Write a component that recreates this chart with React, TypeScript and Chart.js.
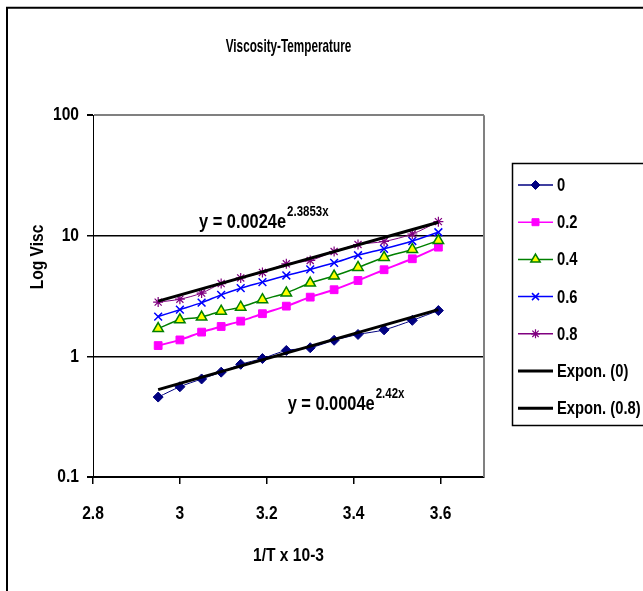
import React, { useEffect, useRef } from "react";
import { Chart, registerables } from "chart.js";
import { drawPoint } from "chart.js/helpers";

Chart.register(...registerables);

const FONT = '"Liberation Sans", Arial, sans-serif';
const NARROW = 0.82;
const TITLE_SIZE = 18;
const TITLE_NARROW = 0.635;

const chartTitle = "Viscosity-Temperature";
const xAxisTitle = "1/T x 10-3";
const yAxisTitle = "Log Visc";

const xTickValues = [2.8, 3.0, 3.2, 3.4, 3.6];
const yTickValues = [0.1, 1, 10, 100];

const invT = [2.95, 3.0, 3.05, 3.095, 3.14, 3.19, 3.245, 3.3, 3.355, 3.41, 3.47, 3.535, 3.595];
const visc0 = [0.46, 0.56, 0.65, 0.74, 0.86, 0.96, 1.12, 1.18, 1.36, 1.52, 1.66, 1.99, 2.4];
const visc02 = [1.23, 1.37, 1.59, 1.77, 1.96, 2.26, 2.61, 3.1, 3.57, 4.26, 5.23, 6.45, 8.05];
const visc04 = [1.7, 2.01, 2.12, 2.37, 2.56, 2.95, 3.36, 4.06, 4.64, 5.46, 6.61, 7.7, 9.14];
const visc06 = [2.14, 2.44, 2.79, 3.24, 3.68, 4.13, 4.69, 5.26, 5.97, 6.9, 7.8, 9.06, 10.7];
const visc08 = [2.82, 2.98, 3.35, 4.02, 4.47, 4.97, 5.86, 6.24, 7.41, 8.47, 8.97, 10.35, 13.1];

const trendX = [2.95, 3.595];
const expon0 = [0.53, 2.44];
const expon08 = [2.87, 12.96];

const seriesLabels = ["0", "0.2", "0.4", "0.6", "0.8", "Expon. (0)", "Expon. (0.8)"];

const eqMain = ["y = 0.0024e", "y = 0.0004e"];
const eqSup = ["2.3853x", "2.42x"];
const eqAnchorX = [3.044, 3.248];
const eqAnchorY = [11.7, 0.357];

const pts = (xs: number[], ys: number[]) => xs.map((x, i) => ({ x, y: ys[i] }));

const framePlugin = {
  id: "frame",
  beforeDraw(chart: any) {
    const { ctx } = chart;
    ctx.save();
    ctx.strokeStyle = "#000";
    ctx.lineWidth = 2;
    ctx.beginPath();
    ctx.moveTo(7, 600);
    ctx.lineTo(7, 7.7);
    ctx.lineTo(660, 7.7);
    ctx.stroke();
    ctx.restore();
  },
  beforeDatasetsDraw(chart: any) {
    const { ctx, chartArea } = chart;
    ctx.save();
    ctx.strokeStyle = "#808080";
    ctx.lineWidth = 2;
    ctx.beginPath();
    ctx.moveTo(chartArea.right, chartArea.top);
    ctx.lineTo(chartArea.right, chartArea.bottom);
    ctx.stroke();
    ctx.restore();
  },
};

const textPlugin = {
  id: "texts",
  afterDatasetsDraw(chart: any) {
    const { ctx, scales } = chart;
    ctx.save();
    ctx.fillStyle = "#000";
    ctx.save();
    ctx.translate(38, 257);
    ctx.rotate(-Math.PI / 2);
    ctx.font = `bold 19px ${FONT}`;
    ctx.textAlign = "center";
    ctx.textBaseline = "middle";
    ctx.fillText(yAxisTitle, 0, 0);
    ctx.restore();
    eqMain.forEach((t, i) => {
      const x = scales.x.getPixelForValue(eqAnchorX[i]);
      const y = scales.y.getPixelForValue(eqAnchorY[i]);
      ctx.font = `bold 20px ${FONT}`;
      ctx.textAlign = "left";
      ctx.textBaseline = "alphabetic";
      ctx.fillText(t, x, y);
      const w = ctx.measureText(t).width * NARROW;
      ctx.font = `bold 14px ${FONT}`;
      ctx.fillText(eqSup[i], x + w + 1, y - 12);
    });
    ctx.restore();
  },
  afterDraw(chart: any) {
    const { ctx } = chart;
    ctx.save();
    ctx.strokeStyle = "#000";
    ctx.lineWidth = 1.5;
    ctx.strokeRect(512.5, 163.5, 150, 262);
    chart.data.datasets.forEach((ds: any, i: number) => {
      const y = 185 + i * 37.2;
      ctx.strokeStyle = ds.borderColor;
      ctx.lineWidth = ds.pointRadius > 0 ? 1.5 : 3;
      ctx.beginPath();
      ctx.moveTo(518, y);
      ctx.lineTo(553, y);
      ctx.stroke();
      if (ds.pointRadius > 0) {
        ctx.fillStyle = ds.pointBackgroundColor;
        ctx.strokeStyle = ds.pointBorderColor;
        ctx.lineWidth = ds.pointBorderWidth;
        drawPoint(ctx, { pointStyle: ds.pointStyle, radius: ds.pointRadius * 0.9, borderWidth: ds.pointBorderWidth, rotation: 0 }, 535.5, y);
      }
      ctx.fillStyle = "#000";
      ctx.font = `bold 18px ${FONT}`;
      ctx.textAlign = "left";
      ctx.textBaseline = "middle";
      ctx.fillText(ds.label, 557, y + 1);
    });
    ctx.restore();
  },
};

export default function App() {
  const ref = useRef<HTMLCanvasElement>(null);
  useEffect(() => {
    document.body.style.margin = "0";
    document.body.style.overflow = "hidden";
    const canvas = ref.current;
    if (!canvas) return;
    const c2d: any = canvas.getContext("2d");
    const origFill = c2d.fillText;
    // condensed (narrow) text rendering, scaled about the anchor point
    c2d.fillText = function (text: string, x: number, y: number, maxWidth?: number) {
      const k = String(this.font).includes(`${TITLE_SIZE}.5px`) ? TITLE_NARROW : NARROW;
      this.save();
      this.translate(x, y);
      this.scale(k, 1);
      if (maxWidth !== undefined) origFill.call(this, text, 0, 0, maxWidth / k);
      else origFill.call(this, text, 0, 0);
      this.restore();
    };
    const chart = new Chart(canvas, {
      type: "line",
      data: {
        datasets: [
          {
            label: seriesLabels[0], data: pts(invT, visc0), borderColor: "#000080", borderWidth: 1,
            pointStyle: "rectRot", pointRadius: 5, pointBackgroundColor: "#000080", pointBorderColor: "#000080",
            pointBorderWidth: 1, tension: 0.3, order: 10,
          },
          {
            label: seriesLabels[1], data: pts(invT, visc02), borderColor: "#FF00FF", borderWidth: 2,
            pointStyle: "rect", pointRadius: 5.5, pointBackgroundColor: "#FF00FF", pointBorderColor: "#FF00FF",
            pointBorderWidth: 1, tension: 0.3, order: 9,
          },
          {
            label: seriesLabels[2], data: pts(invT, visc04), borderColor: "#008000", borderWidth: 1.5,
            pointStyle: "triangle", pointRadius: 6, pointBackgroundColor: "#FFFF00", pointBorderColor: "#008000",
            pointBorderWidth: 1.5, tension: 0.3, order: 8,
          },
          {
            label: seriesLabels[3], data: pts(invT, visc06), borderColor: "#0000FF", borderWidth: 1.5,
            pointStyle: "crossRot", pointRadius: 5.5, pointBackgroundColor: "#0000FF", pointBorderColor: "#0000FF",
            pointBorderWidth: 1.5, tension: 0.3, order: 7,
          },
          {
            label: seriesLabels[4], data: pts(invT, visc08), borderColor: "#800080", borderWidth: 1,
            pointStyle: "star", pointRadius: 5, pointBackgroundColor: "#800080", pointBorderColor: "#800080",
            pointBorderWidth: 1.2, tension: 0.3, order: 6,
          },
          {
            label: seriesLabels[5], data: pts(trendX, expon0), borderColor: "#000", borderWidth: 3,
            pointRadius: 0, tension: 0, order: 1,
          },
          {
            label: seriesLabels[6], data: pts(trendX, expon08), borderColor: "#000", borderWidth: 3,
            pointRadius: 0, tension: 0, order: 0,
          },
        ],
      },
      options: {
        responsive: false,
        animation: false,
        events: [],
        layout: { padding: { top: 0, left: 0, right: 159, bottom: 0 } },
        plugins: {
          legend: { display: false },
          tooltip: { enabled: false },
          title: {
            display: true,
            text: chartTitle,
            fullSize: false,
            color: "#000",
            font: { family: FONT, size: TITLE_SIZE + 0.5, weight: "bold", lineHeight: 1.2 },
            padding: { top: 36, bottom: 57 },
          },
        },
        scales: {
          x: {
            type: "linear",
            min: 2.8,
            max: 3.7,
            afterBuildTicks: (s: any) => { s.ticks = xTickValues.map((v) => ({ value: v })); },
            afterFit: (s: any) => { s.height = 114; },
            ticks: {
              color: "#000",
              padding: 18,
              maxRotation: 0,
              font: { family: FONT, size: 19, weight: "bold" },
              callback: (v: any) => String(Number(v)),
            },
            grid: { drawOnChartArea: false, drawTicks: true, tickLength: 7, color: "#000", lineWidth: 1.5 },
            border: { color: "#000", width: 2 },
            title: {
              display: true,
              text: xAxisTitle,
              color: "#000",
              font: { family: FONT, size: 19, weight: "bold", lineHeight: 1.2 },
              padding: { top: 0, bottom: 24 },
            },
          },
          y: {
            type: "logarithmic",
            min: 0.1,
            max: 100,
            afterBuildTicks: (s: any) => { s.ticks = yTickValues.map((v) => ({ value: v })); },
            afterFit: (s: any) => { s.width = 93; },
            ticks: {
              color: "#000",
              padding: 8,
              font: { family: FONT, size: 19, weight: "bold" },
              callback: (v: any) => String(Number(v)),
            },
            grid: {
              drawTicks: true,
              tickLength: 6,
              tickColor: "#000",
              color: (c: any) => (c.tick && c.tick.value === 100 ? "#808080" : "#000"),
              lineWidth: (c: any) => (c.tick && (c.tick.value === 100 || c.tick.value === 0.1) ? 2 : 1.5),
            },
            border: { color: "#000", width: 1 },
          },
        },
      },
      plugins: [framePlugin, textPlugin],
    });
    return () => {
      chart.destroy();
      c2d.fillText = origFill;
    };
  }, []);
  return <canvas ref={ref} width={643} height={591} style={{ display: "block" }} />;
}
